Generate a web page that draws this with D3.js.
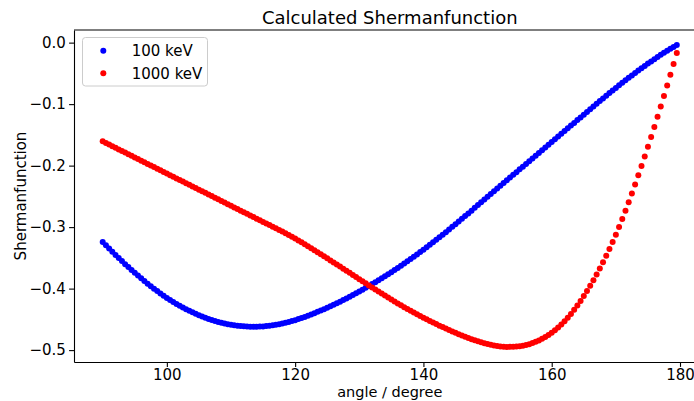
<!DOCTYPE html>
<html>
<head>
<meta charset="utf-8">
<script src="https://cdn.jsdelivr.net/npm/d3@7"></script>
<style>
  body { margin: 0; background: #fff; }
  svg { display: block; }
  text { font-family: "DejaVu Sans", sans-serif; fill: #000; }
</style>
</head>
<body>
<svg id="chart" width="694" height="401"></svg>
<script>
// Scattering angle in degrees (0.5 degree steps)
const angles = [
  90, 90.5, 91, 91.5, 92, 92.5, 93, 93.5, 94, 94.5,
  95, 95.5, 96, 96.5, 97, 97.5, 98, 98.5, 99, 99.5,
  100, 100.5, 101, 101.5, 102, 102.5, 103, 103.5, 104, 104.5,
  105, 105.5, 106, 106.5, 107, 107.5, 108, 108.5, 109, 109.5,
  110, 110.5, 111, 111.5, 112, 112.5, 113, 113.5, 114, 114.5,
  115, 115.5, 116, 116.5, 117, 117.5, 118, 118.5, 119, 119.5,
  120, 120.5, 121, 121.5, 122, 122.5, 123, 123.5, 124, 124.5,
  125, 125.5, 126, 126.5, 127, 127.5, 128, 128.5, 129, 129.5,
  130, 130.5, 131, 131.5, 132, 132.5, 133, 133.5, 134, 134.5,
  135, 135.5, 136, 136.5, 137, 137.5, 138, 138.5, 139, 139.5,
  140, 140.5, 141, 141.5, 142, 142.5, 143, 143.5, 144, 144.5,
  145, 145.5, 146, 146.5, 147, 147.5, 148, 148.5, 149, 149.5,
  150, 150.5, 151, 151.5, 152, 152.5, 153, 153.5, 154, 154.5,
  155, 155.5, 156, 156.5, 157, 157.5, 158, 158.5, 159, 159.5,
  160, 160.5, 161, 161.5, 162, 162.5, 163, 163.5, 164, 164.5,
  165, 165.5, 166, 166.5, 167, 167.5, 168, 168.5, 169, 169.5,
  170, 170.5, 171, 171.5, 172, 172.5, 173, 173.5, 174, 174.5,
  175, 175.5, 176, 176.5, 177, 177.5, 178, 178.5, 179, 179.5
];

// Sherman function at 100 keV
const sherman100 = [
  -0.3240, -0.3294, -0.3348, -0.3400, -0.3452, -0.3503, -0.3553, -0.3602, -0.3650, -0.3697,
  -0.3743, -0.3788, -0.3833, -0.3876, -0.3919, -0.3960, -0.4001, -0.4040, -0.4079, -0.4116,
  -0.4153, -0.4186, -0.4218, -0.4249, -0.4279, -0.4307, -0.4335, -0.4361, -0.4386, -0.4410,
  -0.4433, -0.4454, -0.4474, -0.4493, -0.4511, -0.4527, -0.4542, -0.4555, -0.4567, -0.4578,
  -0.4588, -0.4596, -0.4603, -0.4609, -0.4614, -0.4617, -0.4620, -0.4621, -0.4620, -0.4618,
  -0.4615, -0.4610, -0.4605, -0.4597, -0.4589, -0.4579, -0.4569, -0.4556, -0.4543, -0.4528,
  -0.4513, -0.4496, -0.4479, -0.4460, -0.4441, -0.4420, -0.4399, -0.4378, -0.4356, -0.4334,
  -0.4311, -0.4287, -0.4263, -0.4238, -0.4212, -0.4186, -0.4159, -0.4132, -0.4104, -0.4076,
  -0.4047, -0.4018, -0.3988, -0.3958, -0.3927, -0.3896, -0.3864, -0.3832, -0.3799, -0.3766,
  -0.3732, -0.3698, -0.3663, -0.3628, -0.3592, -0.3556, -0.3519, -0.3482, -0.3444, -0.3406,
  -0.3367, -0.3328, -0.3288, -0.3248, -0.3207, -0.3166, -0.3124, -0.3082, -0.3039, -0.2996,
  -0.2953, -0.2909, -0.2865, -0.2821, -0.2777, -0.2732, -0.2687, -0.2642, -0.2597, -0.2552,
  -0.2506, -0.2462, -0.2417, -0.2373, -0.2328, -0.2284, -0.2239, -0.2195, -0.2150, -0.2106,
  -0.2061, -0.2017, -0.1972, -0.1928, -0.1883, -0.1839, -0.1794, -0.1750, -0.1705, -0.1661,
  -0.1616, -0.1572, -0.1527, -0.1483, -0.1438, -0.1394, -0.1349, -0.1305, -0.1260, -0.1216,
  -0.1171, -0.1127, -0.1082, -0.1038, -0.0994, -0.0951, -0.0907, -0.0864, -0.0821, -0.0779,
  -0.0736, -0.0695, -0.0653, -0.0613, -0.0572, -0.0533, -0.0493, -0.0455, -0.0416, -0.0379,
  -0.0341, -0.0305, -0.0269, -0.0234, -0.0199, -0.0165, -0.0131, -0.0100, -0.0070, -0.0040
];

// Sherman function at 1000 keV
const sherman1000 = [
  -0.1605, -0.1631, -0.1657, -0.1684, -0.1710, -0.1736, -0.1762, -0.1788, -0.1815, -0.1841,
  -0.1867, -0.1893, -0.1919, -0.1946, -0.1972, -0.1998, -0.2024, -0.2050, -0.2077, -0.2103,
  -0.2129, -0.2155, -0.2181, -0.2208, -0.2234, -0.2260, -0.2286, -0.2312, -0.2339, -0.2365,
  -0.2391, -0.2417, -0.2443, -0.2470, -0.2496, -0.2522, -0.2548, -0.2574, -0.2601, -0.2627,
  -0.2653, -0.2679, -0.2705, -0.2732, -0.2758, -0.2784, -0.2810, -0.2836, -0.2863, -0.2889,
  -0.2915, -0.2941, -0.2967, -0.2994, -0.3020, -0.3046, -0.3073, -0.3101, -0.3129, -0.3158,
  -0.3187, -0.3217, -0.3248, -0.3279, -0.3311, -0.3343, -0.3376, -0.3408, -0.3441, -0.3474,
  -0.3508, -0.3541, -0.3575, -0.3608, -0.3642, -0.3676, -0.3710, -0.3744, -0.3778, -0.3812,
  -0.3846, -0.3880, -0.3914, -0.3948, -0.3982, -0.4015, -0.4048, -0.4081, -0.4114, -0.4146,
  -0.4178, -0.4210, -0.4241, -0.4272, -0.4302, -0.4332, -0.4361, -0.4390, -0.4418, -0.4446,
  -0.4473, -0.4500, -0.4526, -0.4552, -0.4577, -0.4602, -0.4626, -0.4650, -0.4673, -0.4696,
  -0.4719, -0.4741, -0.4762, -0.4783, -0.4803, -0.4822, -0.4841, -0.4858, -0.4874, -0.4889,
  -0.4902, -0.4914, -0.4925, -0.4934, -0.4941, -0.4946, -0.4948, -0.4947, -0.4946, -0.4942,
  -0.4936, -0.4928, -0.4917, -0.4903, -0.4886, -0.4866, -0.4843, -0.4817, -0.4787, -0.4754,
  -0.4717, -0.4676, -0.4631, -0.4582, -0.4529, -0.4472, -0.4411, -0.4345, -0.4275, -0.4201,
  -0.4122, -0.4040, -0.3954, -0.3864, -0.3770, -0.3672, -0.3570, -0.3464, -0.3354, -0.3240,
  -0.3123, -0.2998, -0.2867, -0.2733, -0.2594, -0.2452, -0.2306, -0.2158, -0.2006, -0.1852,
  -0.1694, -0.1534, -0.1370, -0.1205, -0.1037, -0.0868, -0.0696, -0.0523, -0.0347, -0.0170
];

const seriesNames = ["100 keV", "1000 keV"];
const seriesColors = ["#0000ff", "#ff0000"];
const xTicks = [100, 120, 140, 160, 180];
const yTicks = [0.0, -0.1, -0.2, -0.3, -0.4, -0.5];
const titleText = "Calculated Shermanfunction";
const xLabelText = "angle / degree";
const yLabelText = "Shermanfunction";

// Plot area (the right spine lies just past the visible canvas)
const plot = { left: 74, top: 30, right: 705.5, bottom: 362 };
const tickLen = 4.9, tickPad = 2, fontSize = 15;

// Auto-limits with 5% padding on each side
function padded(ext) {
  const span = ext[1] - ext[0];
  return [ext[0] - 0.05 * span, ext[1] + 0.05 * span];
}

const x = d3.scaleLinear()
  .domain(padded(d3.extent(angles)))
  .range([plot.left, plot.right]);
const y = d3.scaleLinear()
  .domain(padded(d3.extent(sherman100.concat(sherman1000))))
  .range([plot.bottom, plot.top]);

const svg = d3.select("#chart");
const fmtY = v => d3.format(".1f")(v).replace("-", "\u2212");

// Data points
const series = [sherman100, sherman1000];
series.forEach((vals, i) => {
  svg.append("g")
    .selectAll("circle")
    .data(angles.map((a, j) => [a, vals[j]]))
    .join("circle")
    .attr("cx", d => x(d[0]))
    .attr("cy", d => y(d[1]))
    .attr("r", 3)
    .attr("fill", seriesColors[i]);
});

// Axes
const xAxis = d3.axisBottom(x).tickValues(xTicks).tickFormat(d3.format("d"))
  .tickSizeInner(tickLen).tickSizeOuter(0).tickPadding(tickPad);
const yAxis = d3.axisLeft(y).tickValues(yTicks).tickFormat(fmtY)
  .tickSizeInner(tickLen).tickSizeOuter(0).tickPadding(3.2);

const gx = svg.append("g").attr("transform", `translate(0,${plot.bottom})`).call(xAxis);
const gy = svg.append("g").attr("transform", `translate(${plot.left},0)`).call(yAxis);
[gx, gy].forEach(g => {
  g.selectAll("path.domain").attr("stroke", "#000").attr("stroke-width", 1.1);
  g.selectAll(".tick line").attr("stroke", "#000").attr("stroke-width", 1.1);
  g.selectAll(".tick text")
    .attr("font-family", "DejaVu Sans, sans-serif")
    .attr("font-size", fontSize)
    .attr("fill", "#000");
});

// Top spine
svg.append("line")
  .attr("x1", plot.left).attr("x2", plot.right)
  .attr("y1", plot.top).attr("y2", plot.top)
  .attr("stroke", "#000").attr("stroke-width", 1.1);
// Right spine
svg.append("line")
  .attr("x1", plot.right).attr("x2", plot.right)
  .attr("y1", plot.top).attr("y2", plot.bottom)
  .attr("stroke", "#000").attr("stroke-width", 1.1);

// Title and axis labels
const midX = (plot.left + plot.right) / 2;
svg.append("text")
  .attr("x", midX).attr("y", 24)
  .attr("text-anchor", "middle")
  .attr("font-size", 18)
  .text(titleText);
svg.append("text")
  .attr("x", midX).attr("y", 397)
  .attr("text-anchor", "middle")
  .attr("font-size", 14.5)
  .text(xLabelText);
svg.append("text")
  .attr("transform", `translate(26,${(plot.top + plot.bottom) / 2}) rotate(-90)`)
  .attr("text-anchor", "middle")
  .attr("font-size", fontSize)
  .text(yLabelText);

// Legend
const legend = svg.append("g");
legend.append("rect")
  .attr("x", 82.5).attr("y", 37.5)
  .attr("width", 125).attr("height", 48.5)
  .attr("rx", 3)
  .attr("fill", "#fff").attr("fill-opacity", 0.8)
  .attr("stroke", "#cccccc").attr("stroke-width", 1);
seriesNames.forEach((name, i) => {
  const cy = 50.7 + i * 22.6;
  legend.append("circle")
    .attr("cx", 103.3).attr("cy", cy).attr("r", 3)
    .attr("fill", seriesColors[i]);
  legend.append("text")
    .attr("x", 131.7).attr("y", cy)
    .attr("dy", "0.36em")
    .attr("font-size", fontSize)
    .text(name);
});
</script>
</body>
</html>
